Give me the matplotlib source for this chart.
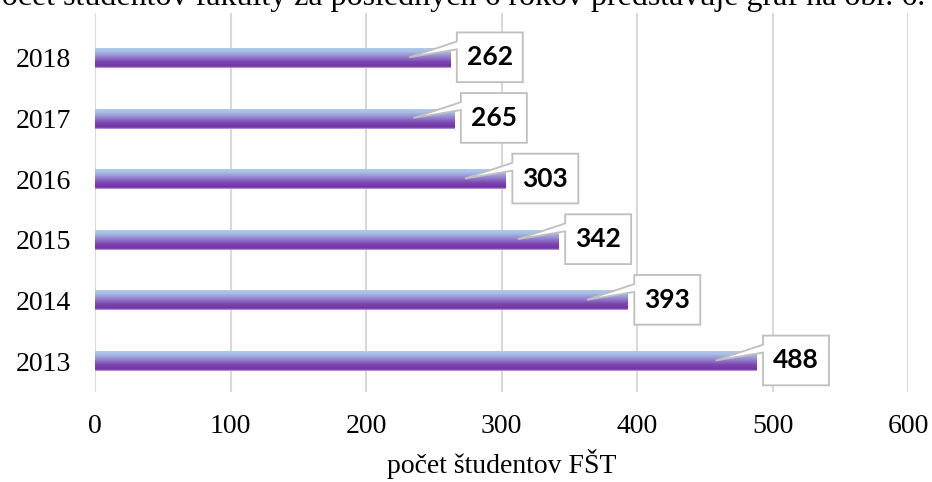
import numpy as np
import matplotlib
matplotlib.use('Agg')
import matplotlib.pyplot as plt
from matplotlib.colors import LinearSegmentedColormap
from matplotlib.patches import Polygon

# data
years = ['2013', '2014', '2015', '2016', '2017', '2018']
students = [488, 393, 342, 303, 265, 262]
x_ticks = [0, 100, 200, 300, 400, 500, 600]
x_label = 'počet študentov FŠT'
top_line = 'Počet študentov fakulty za posledných 6 rokov predstavuje graf na obr. 6.'

fig = plt.figure(figsize=(9.32, 4.82), dpi=100)
ax = fig.add_axes([95/932, 1-392/482, (908-95)/932, (392-13)/482])

serif = ['Liberation Serif', 'DejaVu Serif']

# gradient for bars: bottom purple -> top light blue
cmap = LinearSegmentedColormap.from_list(
    'barg', [(0, '#c8b0e6'), (0.08, '#7232a4'), (0.3, '#7d46b2'),
             (0.55, '#9784cf'), (0.8, '#a6bfe6'), (0.94, '#adc8eb'), (1, '#c8dbf3')])
grad = np.linspace(0, 1, 256).reshape(-1, 1)

h = 0.33
ypos = np.arange(len(years))
bars = ax.barh(ypos, students, height=h, color='none', edgecolor='none', zorder=3)
for b, y, v in zip(bars, ypos, students):
    im = ax.imshow(grad, extent=[0, v, y-h/2, y+h/2], origin='lower', aspect='auto',
                   cmap=cmap, zorder=2.5)
    im.set_clip_path(b)

# callout labels (box + pointer as one outline)
box_w = 48.7    # data units
box_h = 0.82
gap = 5
for y, v in zip(ypos, students):
    L = v + gap
    R = L + box_w
    T = y + box_h/2 + 0.01
    B = y - box_h/2 + 0.01
    pts = [(L, T), (R, T), (R, B), (L, B), (L, y+0.14), (v-30, y+0.01), (L, y+0.27)]
    ax.add_patch(Polygon(pts, closed=True, fc='white', ec='#bfbfbf', lw=1.3, zorder=4))
    ax.text((L+R)/2, y+0.01, str(v), ha='center', va='center', fontsize=19,
            fontweight='bold', family='Lato', color='black', zorder=5)

ax.set_xlim(0, 600)
ax.set_ylim(-0.51, 5.74)
ax.set_xticks(x_ticks)
ax.set_yticks(ypos)
ax.set_yticklabels(years, family=serif, fontsize=20)
ax.set_xticklabels([str(t) for t in x_ticks], family=serif, fontsize=20)
ax.tick_params(length=0)
ax.tick_params(axis='y', pad=17)
ax.tick_params(axis='x', pad=16)
ax.grid(axis='x', color='#d9d9d9', linewidth=1.5, zorder=0)
ax.set_axisbelow(True)
for s in ax.spines.values():
    s.set_visible(False)
ax.set_xlabel(x_label, family=serif, fontsize=20, labelpad=7)

fig.text(925/932, 1-5/482, top_line, ha='right', va='baseline', family=serif, fontsize=23)

fig.savefig('out.png', dpi=100)
